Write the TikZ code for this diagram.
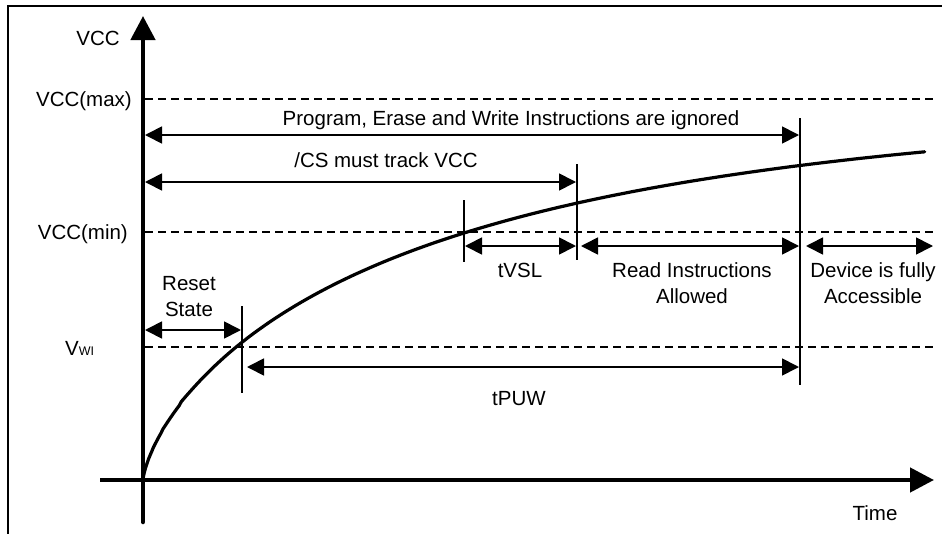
\documentclass[tikz,border=0pt]{standalone}
\usepackage{fontspec}
\setmainfont{Liberation Sans}
\usetikzlibrary{arrows.meta}
\tikzset{
  lbl/.style={inner sep=0pt, font=\fontsize{20.5}{26}\selectfont},
  mlbl/.style={lbl, align=center, anchor=north},
  dim/.style={line width=1.7pt, {Triangle[length=17pt,width=17pt]}-{Triangle[length=17pt,width=17pt]}},
  tick/.style={line width=1.6pt},
  lvl/.style={line width=2pt, dash pattern=on 8pt off 5pt},
  axis/.style={line width=4.5pt, -{Triangle[length=24pt,width=24pt]}},
}
\begin{document}
\begin{tikzpicture}[x=1pt,y=-1pt]
\useasboundingbox (0,0) rectangle (942,533);
% frame
\draw[line width=2pt] (8,540) -- (8,6) -- (945,6);
% level lines
\coordinate (vmaxL) at (145,99);  \coordinate (vmaxR) at (935,99);
\coordinate (vminL) at (145,232); \coordinate (vminR) at (935,232);
\coordinate (vwiL) at (145,347);  \coordinate (vwiR) at (935,347);
\draw[lvl] (vmaxL) -- (vmaxR);
\draw[lvl] (vminL) -- (vminR);
\draw[lvl] (vwiL) -- (vwiR);
% axes
\coordinate (ybot) at (143,522); \coordinate (ytop) at (143,16);
\coordinate (xl) at (100,480); \coordinate (xr) at (934,480);
\draw[axis, line cap=round] (ybot) -- (ytop);
\draw[axis] (xl) -- (xr);
% axis labels
\node[lbl, anchor=base] (lvcc) at (98,45) {VCC};
\node[lbl, anchor=base east] (lmax) at (132,106) {VCC(max)};
\node[lbl, anchor=base east] (lmin) at (128,239) {VCC(min)};
\node[lbl, anchor=base west] (lwi) at (65,355) {V{\fontsize{12.5}{12}\selectfont WI}};
\node[lbl, anchor=base] (ltime) at (875,520) {Time};
% curve
\draw[line width=3.2pt, line cap=round] (143,481) -- plot[domain=0.05:27.96, samples=160]
  ({143+\x*\x}, {480-380*(1-exp(-(\x*\x/300)^0.72))});
% ticks
\coordinate (t1a) at (242,306); \coordinate (t1b) at (242,393);
\coordinate (t2a) at (464,200); \coordinate (t2b) at (464,262);
\coordinate (t3a) at (577,164); \coordinate (t3b) at (577,260);
\coordinate (t4a) at (800,118); \coordinate (t4b) at (800,385);
\draw[tick] (t1a) -- (t1b);
\draw[tick] (t2a) -- (t2b);
\draw[tick] (t3a) -- (t3b);
\draw[tick] (t4a) -- (t4b);
% dimension arrows
\coordinate (pa) at (145,135); \coordinate (pb) at (799,135);
\coordinate (ca) at (145,182); \coordinate (cb) at (576,182);
\coordinate (va) at (465,246); \coordinate (vb) at (576,246);
\coordinate (ra) at (581,246); \coordinate (rb) at (799,246);
\coordinate (da) at (806,246); \coordinate (db) at (933,246);
\coordinate (sa) at (145,330); \coordinate (sb) at (241,330);
\coordinate (wa) at (247,367); \coordinate (wb) at (799,367);
\draw[dim] (pa) -- (pb);
\draw[dim] (ca) -- (cb);
\draw[dim] (va) -- (vb);
\draw[dim] (ra) -- (rb);
\draw[dim] (da) -- (db);
\draw[dim] (sa) -- (sb);
\draw[dim] (wa) -- (wb);
% labels
\node[lbl, anchor=base] (lprog) at (511,125) {Program, Erase and Write Instructions are ignored};
\node[lbl, anchor=base] (lcs) at (386,167) {/CS must track VCC};
\node[lbl, anchor=base] (ltvsl) at (520,277) {tVSL};
\node[mlbl] (lread) at (692,262.3) {Read Instructions\\Allowed};
\node[mlbl] (ldev) at (873,262.3) {Device is fully\\Accessible};
\node[mlbl] (lreset) at (189,276.3) {Reset\\State};
\node[lbl, anchor=base] (ltpuw) at (519,405) {tPUW};
\end{tikzpicture}
\end{document}
